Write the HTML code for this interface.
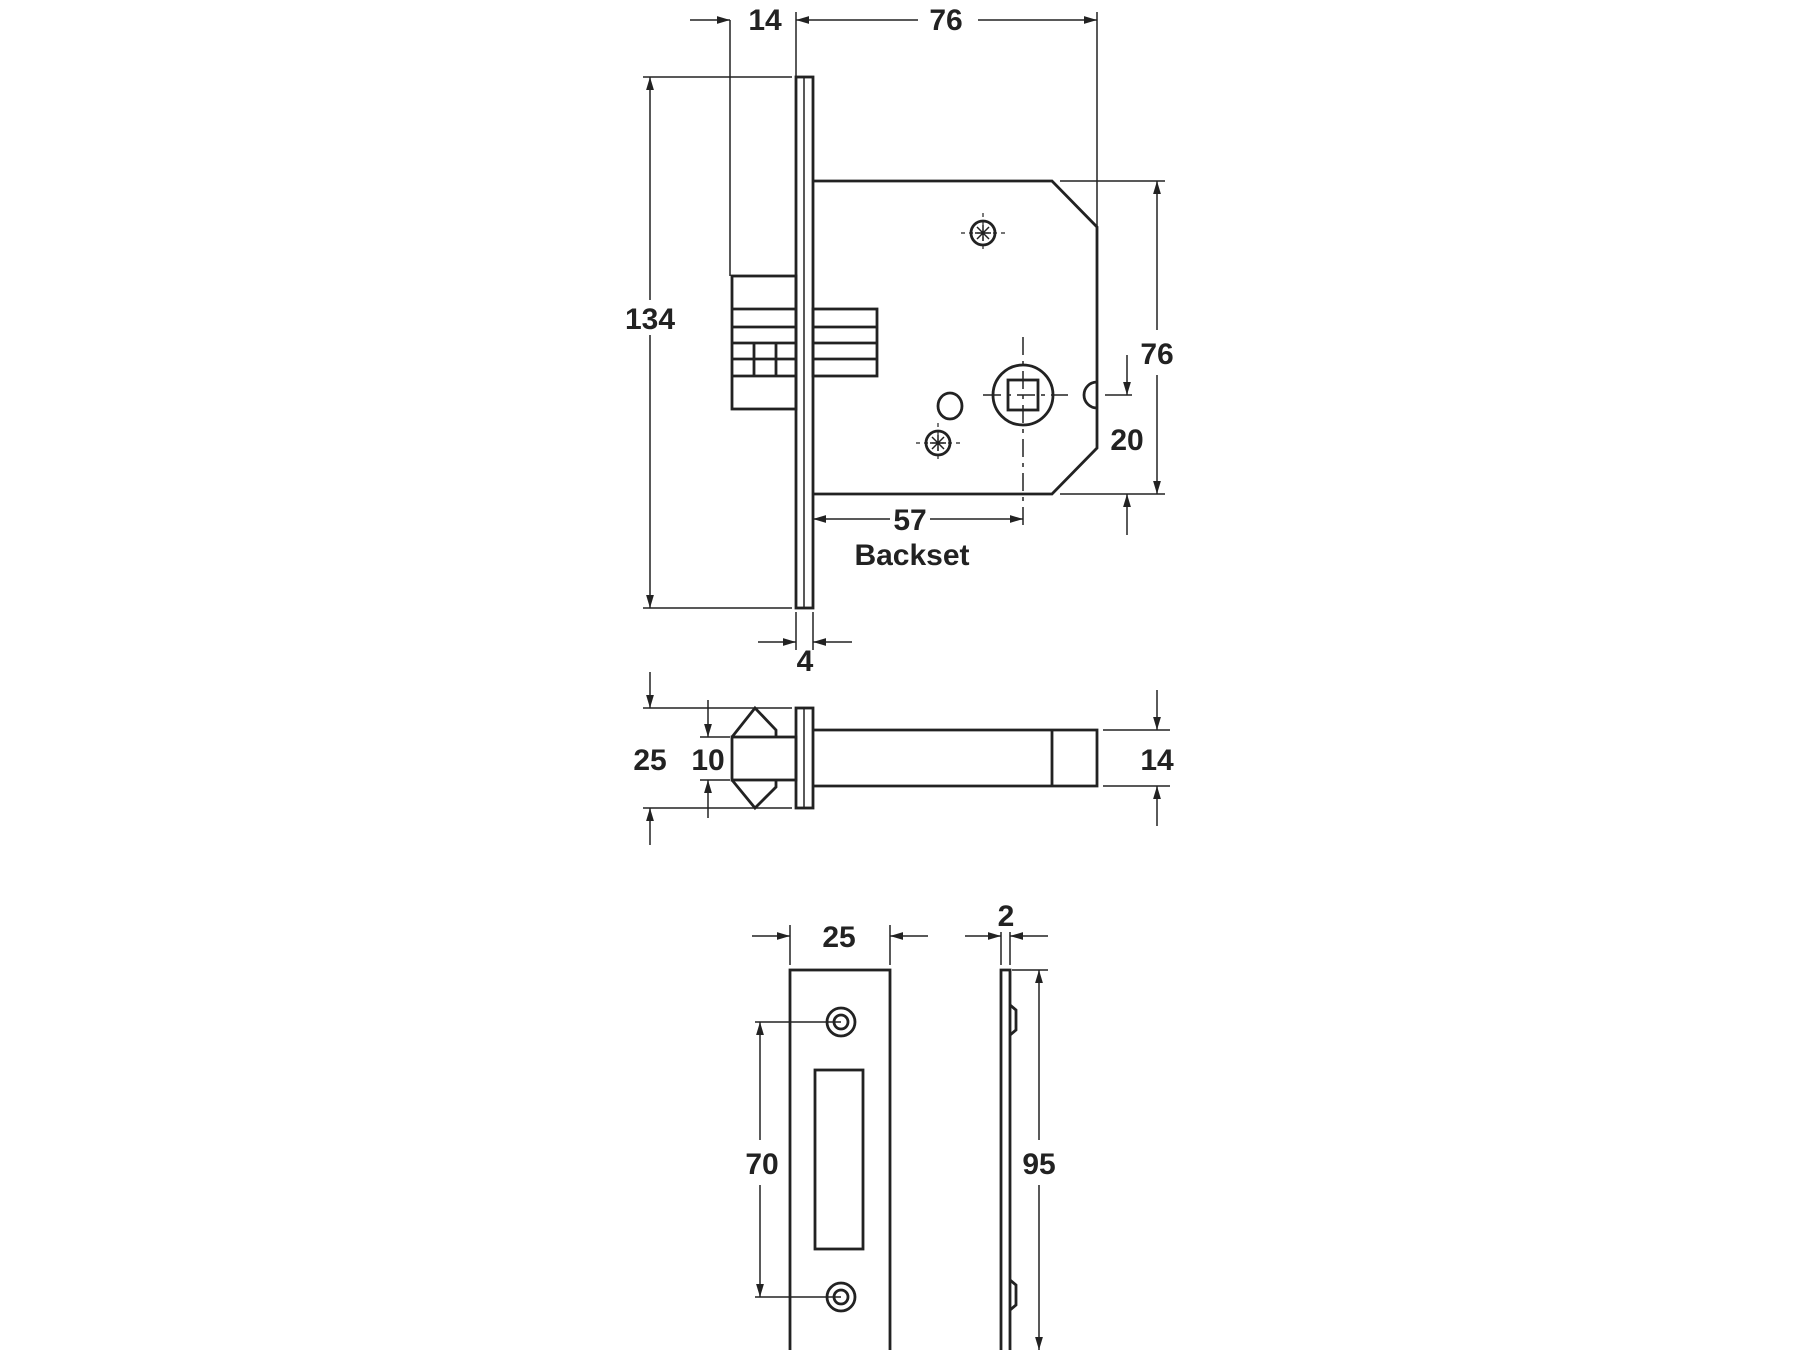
<!DOCTYPE html>
<html><head><meta charset="utf-8"><style>
html,body{margin:0;padding:0;background:#fff;}
svg{display:block;}
text{font-family:"Liberation Sans",Arial,sans-serif;font-weight:bold;font-size:30px;fill:#222;text-anchor:middle;}
</style></head><body>
<svg width="1800" height="1350" viewBox="0 0 1800 1350" xmlns="http://www.w3.org/2000/svg">
<defs>
<marker id="a" viewBox="0 0 10 10" refX="10" refY="5" markerWidth="13" markerHeight="13" markerUnits="userSpaceOnUse" orient="auto">
<path d="M0,2 L10,5 L0,8 z" fill="#222"/></marker>
</defs>
<g stroke="#222" fill="none" stroke-width="2.8">
<!-- faceplate -->
<rect x="796" y="77" width="17" height="531"/>
<line x1="804" y1="77" x2="804" y2="608" stroke-width="1.5"/>
<!-- case -->
<path d="M813,181 L1052,181 L1097,227 L1097,448 L1052,494 L813,494"/>
<!-- latch -->
<rect x="732" y="276" width="64" height="133"/>
<line x1="732" y1="309" x2="796" y2="309"/><line x1="732" y1="327" x2="796" y2="327"/>
<line x1="732" y1="343" x2="796" y2="343"/><line x1="732" y1="359" x2="796" y2="359"/>
<line x1="732" y1="376" x2="796" y2="376"/>
<line x1="754" y1="343" x2="754" y2="376"/><line x1="776" y1="343" x2="776" y2="376"/>
<rect x="813" y="309" width="64" height="67"/>
<line x1="813" y1="327" x2="877" y2="327"/><line x1="813" y1="343" x2="877" y2="343"/><line x1="813" y1="359" x2="877" y2="359"/>
<!-- spindle -->
<circle cx="1023" cy="395" r="30"/>
<rect x="1008" y="380" width="30" height="30"/>
<line x1="1023" y1="337" x2="1023" y2="525" stroke-width="1.5" stroke-dasharray="18,6,4,6"/>
<line x1="983" y1="395" x2="1068" y2="395" stroke-width="1.5" stroke-dasharray="18,6,4,6"/>
<ellipse cx="950" cy="406" rx="12" ry="13"/>
<circle cx="983" cy="233" r="12"/>
<path d="M975,233 L991,233 M983,225 L983,241 M977,227 L989,239 M989,227 L977,239" stroke-width="1.5"/>
<line x1="961" y1="233" x2="1005" y2="233" stroke-width="1.2" stroke-dasharray="4,4"/>
<line x1="983" y1="213" x2="983" y2="253" stroke-width="1.2" stroke-dasharray="4,4"/>
<circle cx="938" cy="443" r="12"/>
<path d="M930,443 L946,443 M938,435 L938,451 M932,437 L944,449 M944,437 L932,449" stroke-width="1.5"/>
<line x1="916" y1="443" x2="960" y2="443" stroke-width="1.2" stroke-dasharray="4,4"/>
<line x1="938" y1="423" x2="938" y2="463" stroke-width="1.2" stroke-dasharray="4,4"/>
<path d="M1097,382 A13,13 0 0 0 1097,408"/>
<!-- dims lock body -->
<g stroke-width="1.5">
<line x1="730" y1="20" x2="730" y2="276"/>
<line x1="796" y1="12" x2="796" y2="77"/>
<line x1="1097" y1="12" x2="1097" y2="227"/>
<line x1="690" y1="20" x2="730" y2="20" marker-end="url(#a)"/>
<line x1="918" y1="20" x2="796" y2="20" marker-end="url(#a)"/>
<line x1="978" y1="20" x2="1097" y2="20" marker-end="url(#a)"/>
<line x1="643" y1="77" x2="792" y2="77"/><line x1="643" y1="608" x2="792" y2="608"/>
<line x1="650" y1="300" x2="650" y2="77" marker-end="url(#a)"/>
<line x1="650" y1="335" x2="650" y2="608" marker-end="url(#a)"/>
<line x1="1060" y1="181" x2="1165" y2="181"/><line x1="1060" y1="494" x2="1165" y2="494"/>
<line x1="1157" y1="330" x2="1157" y2="181" marker-end="url(#a)"/>
<line x1="1157" y1="375" x2="1157" y2="494" marker-end="url(#a)"/>
<line x1="1105" y1="395" x2="1132" y2="395"/>
<line x1="1127" y1="355" x2="1127" y2="395" marker-end="url(#a)"/>
<line x1="1127" y1="535" x2="1127" y2="494" marker-end="url(#a)"/>
<line x1="890" y1="519" x2="813" y2="519" marker-end="url(#a)"/>
<line x1="930" y1="519" x2="1023" y2="519" marker-end="url(#a)"/>
<line x1="796" y1="612" x2="796" y2="650"/><line x1="813" y1="612" x2="813" y2="650"/>
<line x1="758" y1="642" x2="796" y2="642" marker-end="url(#a)"/>
<line x1="852" y1="642" x2="813" y2="642" marker-end="url(#a)"/>
</g>
<!-- bolt side view -->
<rect x="796" y="708" width="17" height="100"/>
<line x1="804" y1="708" x2="804" y2="808" stroke-width="1.5"/>
<path d="M813,730 L1097,730 L1097,786 L813,786"/>
<line x1="1052" y1="730" x2="1052" y2="786"/>
<rect x="732" y="737" width="64" height="43"/>
<path d="M732,737 L755,708 L776,730 L776,737"/>
<path d="M732,780 L755,808 L776,787 L776,780"/>
<g stroke-width="1.5">
<line x1="643" y1="708" x2="792" y2="708"/><line x1="643" y1="808" x2="792" y2="808"/>
<line x1="650" y1="672" x2="650" y2="708" marker-end="url(#a)"/>
<line x1="650" y1="845" x2="650" y2="808" marker-end="url(#a)"/>
<line x1="700" y1="737" x2="730" y2="737"/><line x1="700" y1="780" x2="730" y2="780"/>
<line x1="708" y1="700" x2="708" y2="737" marker-end="url(#a)"/>
<line x1="708" y1="818" x2="708" y2="780" marker-end="url(#a)"/>
<line x1="1103" y1="730" x2="1170" y2="730"/><line x1="1103" y1="786" x2="1170" y2="786"/>
<line x1="1157" y1="690" x2="1157" y2="730" marker-end="url(#a)"/>
<line x1="1157" y1="826" x2="1157" y2="786" marker-end="url(#a)"/>
</g>
<!-- strike plate -->
<rect x="790" y="970" width="100" height="385"/>
<rect x="815" y="1070" width="48" height="179"/>
<circle cx="841" cy="1022" r="14"/><circle cx="841" cy="1022" r="7"/>
<circle cx="841" cy="1297" r="14"/><circle cx="841" cy="1297" r="7"/>
<path d="M1001,970 L1010,970 L1010,1355 L1001,1355 Z"/>
<path d="M1010,1005 L1016,1010 L1016,1030 L1010,1035"/>
<path d="M1010,1280 L1016,1285 L1016,1305 L1010,1310"/>
<g stroke-width="1.5">
<line x1="790" y1="925" x2="790" y2="965"/><line x1="890" y1="925" x2="890" y2="965"/>
<line x1="752" y1="936" x2="790" y2="936" marker-end="url(#a)"/>
<line x1="928" y1="936" x2="890" y2="936" marker-end="url(#a)"/>
<line x1="755" y1="1022" x2="841" y2="1022"/><line x1="755" y1="1297" x2="841" y2="1297"/>
<line x1="760" y1="1140" x2="760" y2="1022" marker-end="url(#a)"/>
<line x1="760" y1="1185" x2="760" y2="1297" marker-end="url(#a)"/>
<line x1="1001" y1="932" x2="1001" y2="965"/><line x1="1010" y1="932" x2="1010" y2="965"/>
<line x1="965" y1="936" x2="1001" y2="936" marker-end="url(#a)"/>
<line x1="1048" y1="936" x2="1010" y2="936" marker-end="url(#a)"/>
<line x1="1012" y1="970" x2="1048" y2="970"/>
<line x1="1039" y1="1140" x2="1039" y2="970" marker-end="url(#a)"/>
<line x1="1039" y1="1185" x2="1039" y2="1350" marker-end="url(#a)"/>
</g>
</g>
<text x="765" y="30">14</text>
<text x="946" y="30">76</text>
<text x="650" y="329">134</text>
<text x="1157" y="364">76</text>
<text x="1127" y="450">20</text>
<text x="910" y="530">57</text>
<text x="912" y="565">Backset</text>
<text x="805" y="671">4</text>
<text x="650" y="770">25</text>
<text x="708" y="770">10</text>
<text x="1157" y="770">14</text>
<text x="839" y="947">25</text>
<text x="1006" y="926">2</text>
<text x="762" y="1174">70</text>
<text x="1039" y="1174">95</text>
</svg>
</body></html>
